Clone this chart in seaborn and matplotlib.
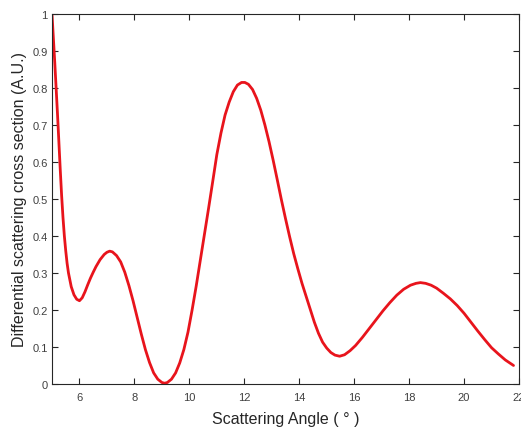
import numpy as np
import pandas as pd
import seaborn as sns
import matplotlib
matplotlib.use('Agg')
import matplotlib.pyplot as plt

# scattering angle (deg)
angle = [5.00, 5.05, 5.10, 5.15, 5.20, 5.25, 5.30, 5.35, 5.40, 5.45,
         5.50, 5.55, 5.60, 5.70, 5.80, 5.90, 6.00, 6.10, 6.20, 6.30,
         6.40, 6.50, 6.60, 6.75, 6.90, 7.00, 7.10, 7.20, 7.35, 7.50,
         7.65, 7.80, 7.95, 8.10, 8.25, 8.40, 8.55, 8.70, 8.85, 9.00,
         9.10, 9.20, 9.35, 9.50, 9.65, 9.80, 9.95, 10.10, 10.25, 10.40,
         10.55, 10.70, 10.85, 11.00, 11.15, 11.30, 11.45, 11.60, 11.75, 11.90,
         12.02, 12.15, 12.30, 12.45, 12.60, 12.75, 12.90, 13.05, 13.20, 13.35,
         13.50, 13.65, 13.80, 13.95, 14.10, 14.25, 14.40, 14.55, 14.70, 14.85,
         15.00, 15.15, 15.30, 15.47, 15.65, 15.85, 16.05, 16.30, 16.55, 16.80,
         17.05, 17.30, 17.55, 17.80, 18.05, 18.25, 18.41, 18.60, 18.80, 19.00,
         19.25, 19.50, 19.75, 20.00, 20.25, 20.50, 20.75, 21.00, 21.25, 21.50,
         21.80]

# differential cross section (A.U.)
cross_sec = [1.000, 0.935, 0.870, 0.800, 0.730, 0.655, 0.580, 0.510, 0.450, 0.400,
             0.360, 0.326, 0.300, 0.263, 0.241, 0.229, 0.225, 0.233, 0.249, 0.268,
             0.286, 0.302, 0.317, 0.336, 0.350, 0.356, 0.359, 0.357, 0.347, 0.330,
             0.302, 0.266, 0.225, 0.180, 0.135, 0.093, 0.058, 0.030, 0.013, 0.004,
             0.002, 0.004, 0.013, 0.030, 0.057, 0.093, 0.140, 0.200, 0.265, 0.335,
             0.405, 0.475, 0.547, 0.620, 0.678, 0.727, 0.762, 0.790, 0.808, 0.815,
             0.815, 0.810, 0.796, 0.772, 0.740, 0.700, 0.655, 0.605, 0.552, 0.498,
             0.447, 0.398, 0.352, 0.311, 0.272, 0.237, 0.202, 0.167, 0.137, 0.113,
             0.097, 0.085, 0.078, 0.075, 0.079, 0.090, 0.104, 0.126, 0.150, 0.174,
             0.198, 0.220, 0.240, 0.256, 0.267, 0.272, 0.274, 0.272, 0.267, 0.259,
             0.245, 0.230, 0.212, 0.191, 0.167, 0.143, 0.120, 0.098, 0.081, 0.065,
             0.050]

xticks = [6, 8, 10, 12, 14, 16, 18, 20, 22]
yticks = [0, 0.1, 0.2, 0.3, 0.4, 0.5, 0.6, 0.7, 0.8, 0.9, 1]
ytick_labels = ['0', '0.1', '0.2', '0.3', '0.4', '0.5', '0.6', '0.7', '0.8', '0.9', '1']

df = pd.DataFrame({'angle': angle, 'cs': cross_sec})

sns.set_style('ticks')
plt.rcParams['font.family'] = ['Liberation Sans', 'DejaVu Sans']

fig = plt.figure(figsize=(5.21, 4.35), dpi=100)
ax = fig.add_axes([0.0998, 0.115, 0.8964, 0.8505])

sns.lineplot(data=df, x='angle', y='cs', ax=ax, color='#e8141c', linewidth=2)

ax.set_xlim(5, 22)
ax.set_ylim(0, 1)
ax.set_xticks(xticks)
ax.set_yticks(yticks)
ax.set_yticklabels(ytick_labels)

ax.tick_params(direction='in', top=True, right=True, length=4, width=0.8,
               labelsize=8, colors='#262626', labelcolor='#404040')
ax.tick_params(axis='x', pad=6)
ax.tick_params(axis='y', pad=3)
for s in ax.spines.values():
    s.set_visible(True)
    s.set_color('#262626')
    s.set_linewidth(0.8)

ax.set_xlabel('Scattering Angle ( ° )', fontsize=11.5, color='#262626', labelpad=6)
ax.set_ylabel('Differential scattering cross section (A.U.)', fontsize=11.5,
              color='#262626', labelpad=4)

plt.savefig('out.png', dpi=100)
